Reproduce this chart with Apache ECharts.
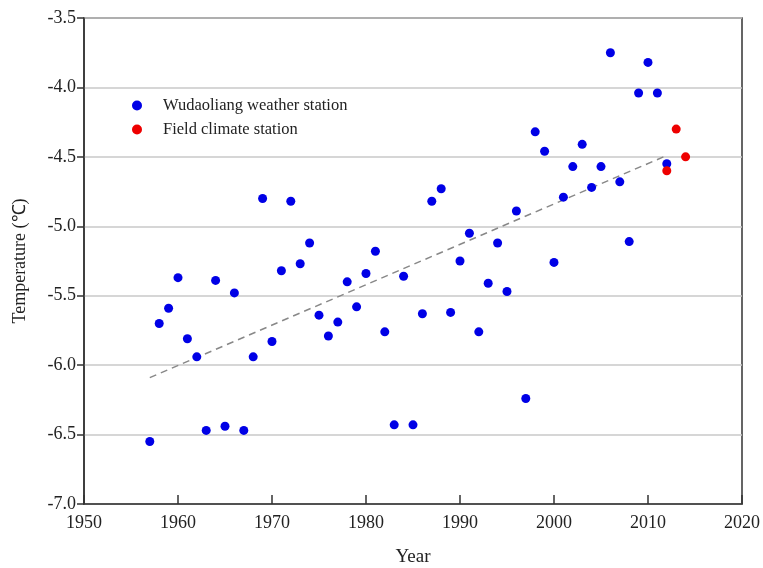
<!DOCTYPE html>
<html><head><meta charset="utf-8">
<script src="https://cdn.jsdelivr.net/npm/echarts@6/dist/echarts.min.js"></script>
<style>html,body{margin:0;padding:0;background:#fff}#c{width:763px;height:568px}</style>
</head><body><div id="c"></div>
<script>
const wudaoYears = [1957,1958,1959,1960,1961,1962,1963,1964,1965,1966,1967,1968,1969,1970,1971,1972,1973,1974,1975,1976,1977,1978,1979,1980,1981,1982,1983,1984,1985,1986,1987,1988,1989,1990,1991,1992,1993,1994,1995,1996,1997,1998,1999,2000,2001,2002,2003,2004,2005,2006,2007,2008,2009,2010,2011,2012];
const wudaoTemps = [-6.55,-5.70,-5.59,-5.37,-5.81,-5.94,-6.47,-5.39,-6.44,-5.48,-6.47,-5.94,-4.80,-5.83,-5.32,-4.82,-5.27,-5.12,-5.64,-5.79,-5.69,-5.40,-5.58,-5.34,-5.18,-5.76,-6.43,-5.36,-6.43,-5.63,-4.82,-4.73,-5.62,-5.25,-5.05,-5.76,-5.41,-5.12,-5.47,-4.89,-6.24,-4.32,-4.46,-5.26,-4.79,-4.57,-4.41,-4.72,-4.57,-3.75,-4.68,-5.11,-4.04,-3.82,-4.04,-4.55];
const fieldYears = [2012,2013,2014];
const fieldTemps = [-4.60,-4.30,-4.50];
const trendYears = [1957,2012];
const trendTemps = [-6.09,-4.49];

const font = '"Liberation Serif","Times New Roman",serif';
const chart = echarts.init(document.getElementById('c'));
chart.setOption({
  animation:false,
  textStyle:{fontFamily:font},
  grid:{left:84,right:21,top:18,bottom:64,outerBoundsMode:'none',containLabel:false,show:true,borderColor:'#333',borderWidth:1.5,backgroundColor:'transparent'},
  legend:{
    orient:'vertical',left:127,top:92,itemGap:7,itemWidth:10,itemHeight:10,
    textStyle:{fontFamily:font,fontSize:16.5,color:'#222',padding:[0,0,0,16]},
    data:[{name:'Wudaoliang weather station',icon:'circle'},{name:'Field climate station',icon:'circle'}]
  },
  xAxis:{
    type:'value',min:1950,max:2020,interval:10,
    name:'Year',nameLocation:'middle',nameGap:44,
    nameTextStyle:{fontFamily:font,fontSize:19,color:'#222'},
    axisLine:{show:true,lineStyle:{color:'#333',width:1.5}},
    axisTick:{show:true,inside:true,length:9,lineStyle:{color:'#333',width:1.5}},
    axisLabel:{fontFamily:font,fontSize:18,color:'#222',margin:10,formatter:v=>String(v)},
    splitLine:{show:false}
  },
  yAxis:{
    type:'value',min:-7,max:-3.5,interval:0.5,
    name:'Temperature (℃)',nameLocation:'middle',nameGap:55,
    nameTextStyle:{fontFamily:font,fontSize:18,color:'#222'},
    axisLine:{show:true,lineStyle:{color:'#333',width:1.5}},
    axisTick:{show:true,inside:false,length:7,lineStyle:{color:'#333',width:1.5}},
    axisLabel:{fontFamily:font,fontSize:18,color:'#222',margin:8,formatter:v=>v.toFixed(1)},
    splitLine:{show:true,lineStyle:{color:'#c8c8c8',width:1.5}}
  },
  series:[
    {name:'Wudaoliang weather station',type:'scatter',symbol:'circle',symbolSize:9,
     itemStyle:{color:'#0000e6',opacity:1},data:wudaoYears.map((y,i)=>[y,wudaoTemps[i]]),z:3},
    {name:'Field climate station',type:'scatter',symbol:'circle',symbolSize:9,
     itemStyle:{color:'#ee0000',opacity:1},data:fieldYears.map((y,i)=>[y,fieldTemps[i]]),z:3},
    {name:'trend',type:'line',symbol:'none',silent:true,
     lineStyle:{color:'#888',width:1.5,type:[7,5]},data:trendYears.map((y,i)=>[y,trendTemps[i]]),z:2}
  ]
});
</script></body></html>
